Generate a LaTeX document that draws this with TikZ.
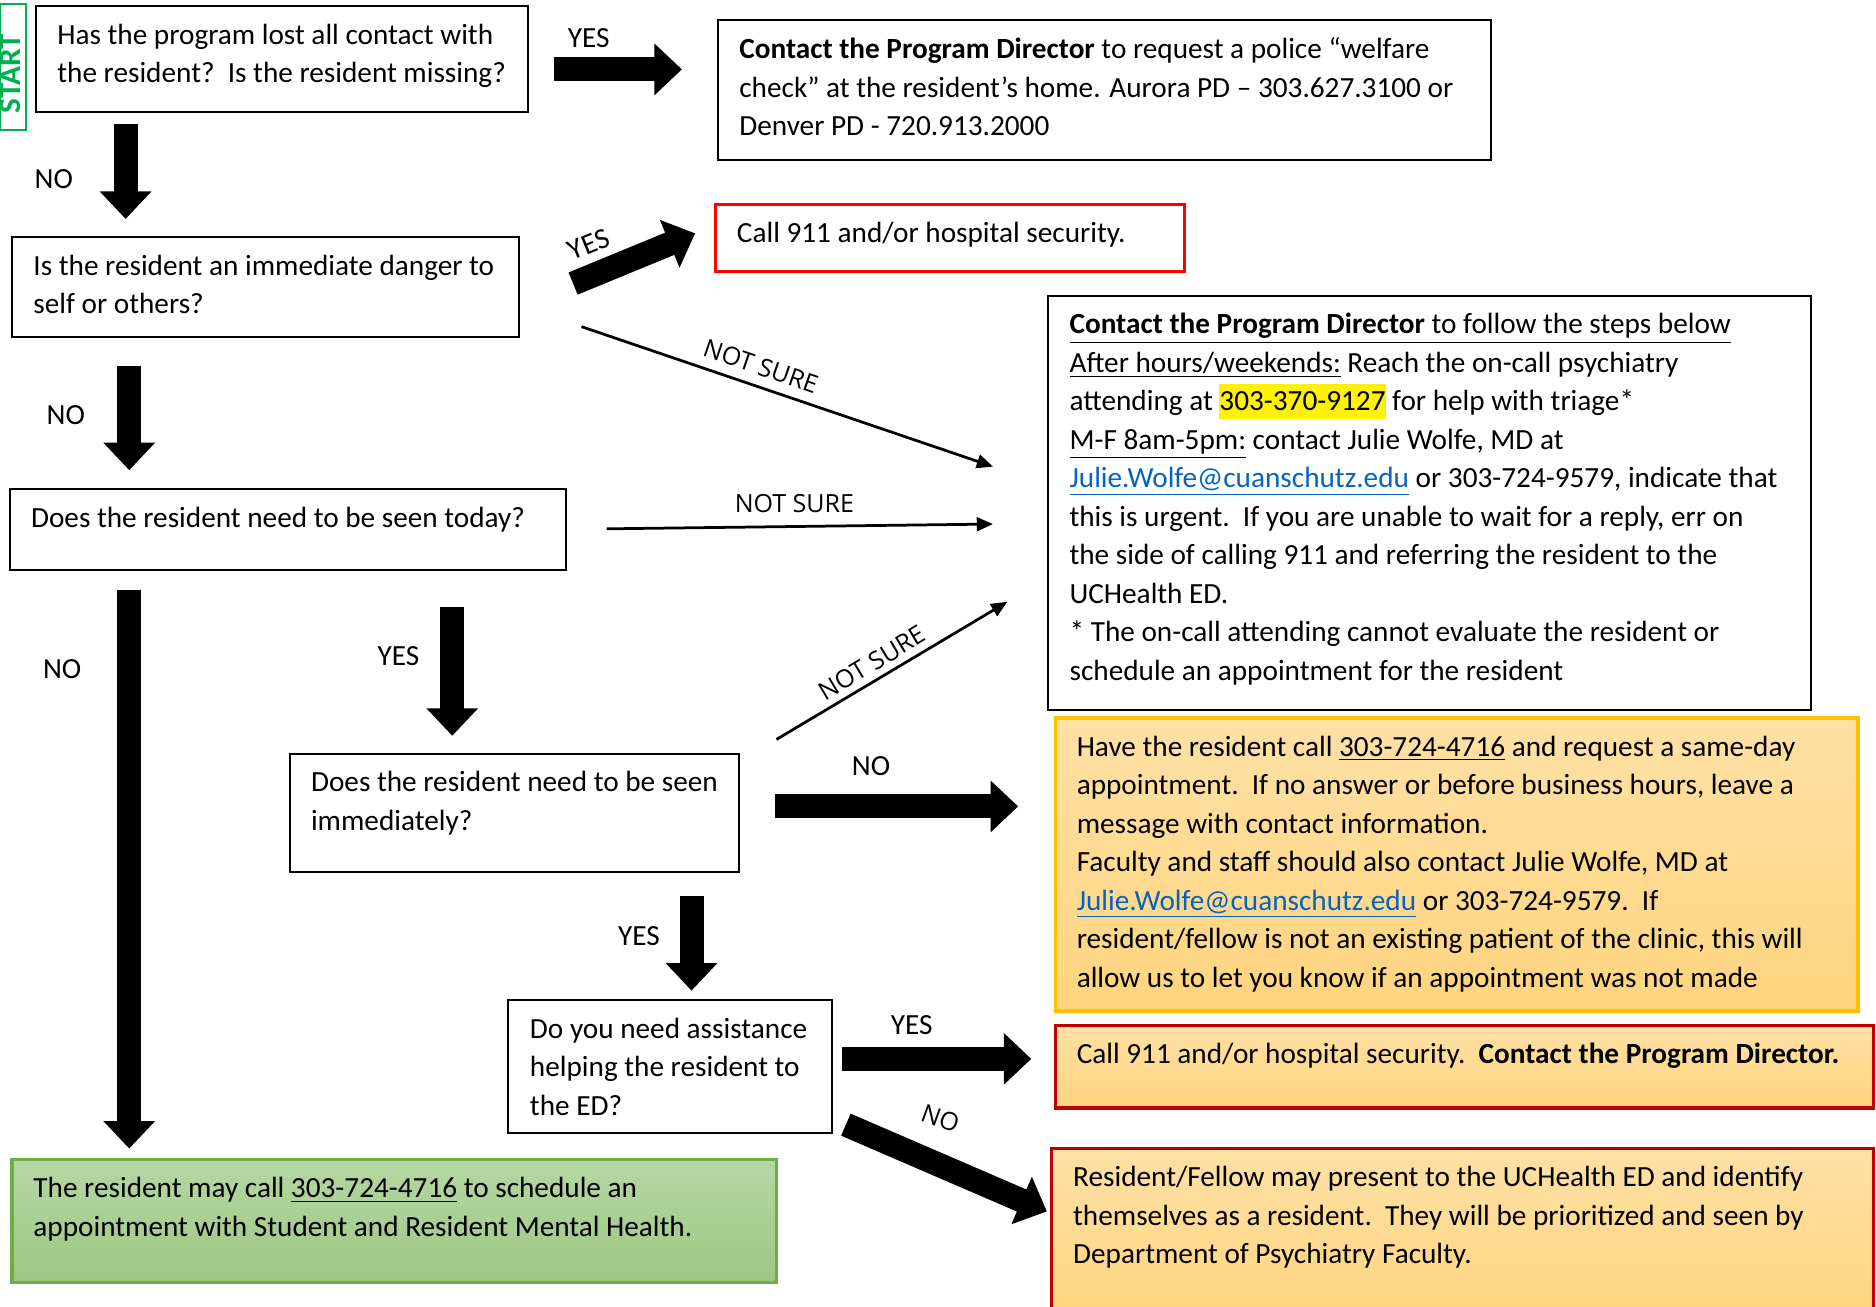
\documentclass[tikz,border=0pt]{standalone}
\usepackage{fontspec}
\setmainfont{Carlito}
\newfontfamily\labelfont{Open Sans}
\usepackage{xcolor}
\usetikzlibrary{arrows.meta,calc}

\definecolor{linkblue}{HTML}{0563C1}
\definecolor{startgreen}{HTML}{00B050}
\definecolor{gold}{HTML}{FFC000}
\definecolor{darkred}{HTML}{C00000}
\definecolor{leafgreen}{HTML}{70AD47}
\definecolor{orangetop}{HTML}{FFE1A6}
\definecolor{orangebot}{HTML}{FFD47E}
\definecolor{greentop}{HTML}{B6D7A4}
\definecolor{greenbot}{HTML}{9DC783}

% one unit of the drawing
\newlength{\pxu}\setlength{\pxu}{0.4786pt}
% text of a box: width, height, lines
\newcommand{\cell}[3]{\parbox[c][\dimexpr#2\pxu-9pt\relax][t]{\dimexpr#1\pxu-17.2pt\relax}{\begin{tabular}[t]{@{}l@{}}#3\end{tabular}}}
\newcommand{\hilite}[1]{{\setlength{\fboxsep}{0pt}\colorbox{yellow}{\rule[-3.5pt]{0pt}{14pt}#1}}}
\newcommand{\mail}{\textcolor{linkblue}{\underline{Julie.Wolfe@cuanschutz.edu}}}

\begin{document}
\begin{tikzpicture}[x=0.4786pt,y=-0.4786pt,font=\fontsize{11.7}{15.4}\selectfont]
  \tikzstyle{boxn}=[draw,line width=0.8pt,anchor=north west,outer sep=0pt,inner xsep=8.6pt,inner ysep=4.5pt]
  \tikzstyle{redn}=[boxn,draw=red,line width=1.4pt]
  \tikzstyle{warm}=[boxn,line width=1.4pt,top color=orangetop,bottom color=orangebot]
  \tikzstyle{goldn}=[warm,draw=gold]
  \tikzstyle{darkn}=[warm,draw=darkred]
  \tikzstyle{greenn}=[boxn,draw=leafgreen,line width=1.4pt,top color=greentop,bottom color=greenbot]
  \tikzstyle{startn}=[draw=startgreen,line width=0.8pt,anchor=north west,outer sep=0pt,minimum width=10.3pt,minimum height=50.7pt]
  \tikzstyle{fat}=[line width=9.6pt,-{Triangle[width=20pt,length=11pt]}]
  \tikzstyle{thin}=[line width=1.1pt,-{Triangle[width=5.5pt,length=6.5pt]}]
  \tikzstyle{lbl}=[inner sep=0pt]
  \tikzstyle{lbls}=[inner sep=0pt,font=\labelfont\fontsize{10}{12}\selectfont]
  \useasboundingbox (0,0) rectangle (1568,1092);

  \node[startn,label={[rotate=90,xshift=-2.6pt,yshift=1pt,inner sep=0pt,text=startgreen,font=\fontsize{12.5}{14}\bfseries\selectfont]center:START}] (start) at (0,3) {};
  \node[boxn] (q1) at (30,5) {\cell{411}{89}{Has the program lost all contact with\\the resident?\ \ Is the resident missing?}};
  \node[boxn] (welfare) at (600,17) {\cell{646}{117}{\textbf{Contact the Program Director} to request a police “welfare\\check” at the resident’s home. Aurora PD – 303.627.3100 or\\Denver PD - 720.913.2000}};
  \node[redn] (call1) at (598,171) {\cell{392}{56}{Call 911 and/or hospital security.}};
  \node[boxn] (q2) at (10,198) {\cell{424}{84}{Is the resident an immediate danger to\\self or others?}};
  \node[boxn] (steps) at (876,247) {\cell{638}{346}{\underline{\textbf{Contact the Program Director} to follow the steps below}\\
    \underline{After hours/weekends:} Reach the on-call psychiatry\\
    attending at \hilite{303-370-9127} for help with triage*\\
    \underline{M-F 8am-5pm:} contact Julie Wolfe, MD at\\
    \mail{} or 303-724-9579, indicate that\\
    this is urgent.\ \ If you are unable to wait for a reply, err on\\
    the side of calling 911 and referring the resident to the\\
    UCHealth ED.\\{}%
    * The on-call attending cannot evaluate the resident or\\
    schedule an appointment for the resident}};
  \node[boxn] (q3) at (8,409) {\cell{465}{67}{Does the resident need to be seen today?}};
  \node[boxn] (q4) at (242,630) {\cell{376}{99}{Does the resident need to be seen\\immediately?}};
  \node[goldn] (sameday) at (882,600) {\cell{671}{245}{Have the resident call \underline{303-724-4716} and request a same-day\\
    appointment.\ \ If no answer or before business hours, leave a\\
    message with contact information.\\
    Faculty and staff should also contact Julie Wolfe, MD at\\
    \mail{} or 303-724-9579.\ \ If\\
    resident/fellow is not an existing patient of the clinic, this will\\
    allow us to let you know if an appointment was not made}};
  \node[boxn] (q5) at (425,836) {\cell{270}{111}{Do you need assistance\\helping the resident to\\the ED?}};
  \node[darkn] (call2) at (882,857) {\cell{684}{69}{Call 911 and/or hospital security.\ \ \textbf{Contact the Program Director.}}};
  \node[darkn] (present) at (879,960) {\cell{687}{145}{Resident/Fellow may present to the UCHealth ED and identify\\
    themselves as a resident.\ \ They will be prioritized and seen by\\
    Department of Psychiatry Faculty.}};
  \node[greenn] (schedule) at (10,969) {\cell{639}{103}{The resident may call \underline{303-724-4716} to schedule an\\
    appointment with Student and Resident Mental Health.}};

  % thick arrows
  \draw[fat] ($(q1.east)+(22,8.5)$) -- ($(welfare.west)+(-30,-17.5)$);
  \draw[fat] ($(q1.south)+(-130.5,10)$) -- ($(q2.north)+(-117,-15)$);
  \draw[fat] ($(q2.east)+(45,-3)$) -- ($(call1.west)+(-17,-4)$);
  \draw[fat] ($(q2.south)+(-114,24)$) -- ($(q3.north)+(-132.5,-16)$);
  \draw[fat] ($(q3.south)+(-132.5,17)$) -- ($(schedule.north)+(-221.5,-9)$);
  \draw[fat] ($(q3.south)+(137.5,31)$) -- ($(q4.north)+(-52,-15)$);
  \draw[fat] ($(q4.east)+(30,-5.5)$) -- ($(sameday.west)+(-31,-48.5)$);
  \draw[fat] ($(q4.south)+(148,20)$) -- ($(q5.north)+(18,-8)$);
  \draw[fat] ($(q5.east)+(9,-6.5)$) -- ($(call2.west)+(-20,-6.5)$);
  \draw[fat] ($(q5.south east)+(12,-7)$) -- ($(present.west)+(-4,-20)$);
  % not sure arrows
  \draw[thin] ($(q2.east)+(52,33)$) -- ($(steps.west)+(-46,-30)$);
  \draw[thin] ($(q3.east)+(34,-0.5)$) -- ($(steps.west)+(-46,18)$);
  \draw[thin] ($(q4.north east)+(31,-12)$) -- ($(steps.south west)+(-34,-90)$);

  \node[lbl] (yes1) at (492,32) {YES};
  \node[lbl] (no1) at (45,150) {NO};
  \node[lbl,rotate=22] (yes2) at (492,204) {YES};
  \node[lbl] (no2) at (55,347) {NO};
  \node[lbl] (no3) at (52,559) {NO};
  \node[lbl] (yes3) at (333,548) {YES};
  \node[lbl] (no4) at (728,640) {NO};
  \node[lbl] (yes4) at (534,782) {YES};
  \node[lbl] (yes5) at (762,857) {YES};
  \node[lbls,rotate=-20] (no5) at (786,935) {NO};
  \node[lbls,rotate=-19] (unsure1) at (636,306) {NOT SURE};
  \node[lbls] (unsure2) at (664,421) {NOT SURE};
  \node[lbls,rotate=31] (unsure3) at (729,554) {NOT SURE};
\end{tikzpicture}
\end{document}
